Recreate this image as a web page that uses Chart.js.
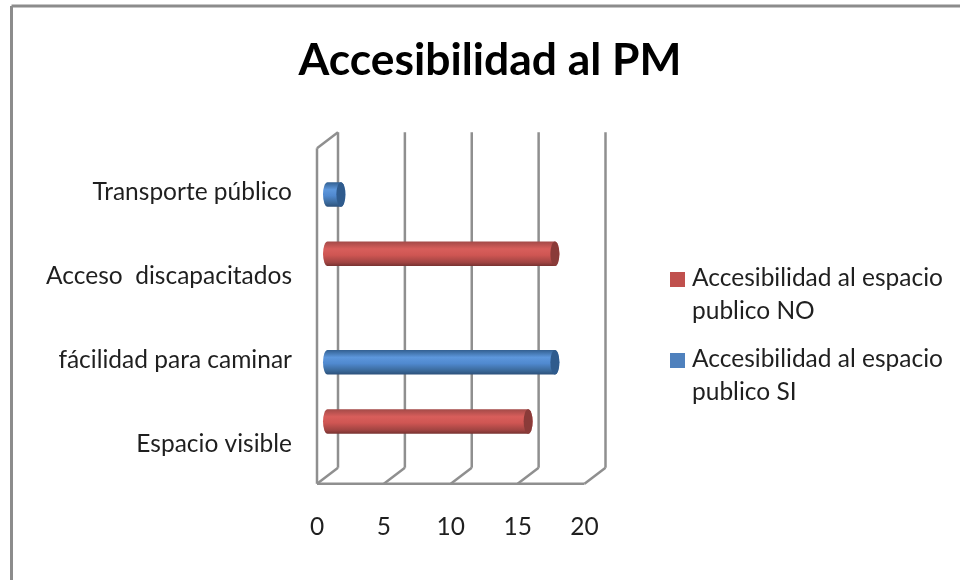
<!DOCTYPE html>
<html>
<head>
<meta charset="utf-8">
<style>
  html, body { margin: 0; background: #fff; }
  canvas { display: block; }
</style>
<script src="https://cdn.jsdelivr.net/npm/chart.js@4/dist/chart.umd.min.js"></script>
</head>
<body>
<canvas id="canvas" width="960" height="580"></canvas>
<script>
var categories = ['Transporte público', 'Acceso  discapacitados', 'fácilidad para caminar', 'Espacio visible'];
var seriesNames = ['Accesibilidad al espacio publico NO', 'Accesibilidad al espacio publico SI'];
var valuesNo = [null, 17, null, 15];
var valuesSi = [1, null, 17, null];
var axisTicks = [0, 5, 10, 15, 20];
var gridColor = '#8f8f8f';
var textColor = '#1f1f1f';
var fontName = 'Lato';

// colours of the cylinders, top edge to bottom edge
var shades = {
  '#c0504d': { stops: ['#a34a48', '#d85e5b', '#cf5653', '#a04442', '#763230'], cap: '#8a3b39' },
  '#4f81bd': { stops: ['#325f90', '#5d97dc', '#5089cf', '#3a6898', '#2c507a'], cap: '#2f5b8d' }
};

function line(ctx, x1, y1, x2, y2) {
  ctx.beginPath();
  ctx.moveTo(x1, y1);
  ctx.lineTo(x2, y2);
  ctx.stroke();
}

// white page, grey frame and the 3d walls, all hung on the x scale
var wallsPlugin = {
  id: 'walls',
  afterLayout: function(chart) {
    // title is centred on the whole frame, not on what is left beside the legend
    chart.titleBlock.left = 20;
    chart.titleBlock.right = 960;
  },
  beforeDraw: function(chart) {
    var ctx = chart.ctx;
    var xs = chart.scales.x;
    var area = chart.chartArea;
    var dx = 10.5, dy = 8;
    ctx.save();
    ctx.fillStyle = '#fff';
    ctx.fillRect(0, 0, 960, 580);
    ctx.strokeStyle = '#8c8c8c';
    ctx.lineWidth = 3;
    line(ctx, 11.5, 6, 960, 6);
    line(ctx, 11.5, 6, 11.5, 580);

    ctx.strokeStyle = gridColor;
    ctx.lineWidth = 2.5;
    axisTicks.forEach(function(v) {
      var p = xs.getPixelForValue(v);
      line(ctx, p + dx, area.top - dy, p + dx, area.bottom - dy);
      line(ctx, p + dx, area.bottom - dy, p - dx, area.bottom + dy);
    });
    var p0 = xs.getPixelForValue(0);
    var p20 = xs.getPixelForValue(20);
    line(ctx, p0 - dx, area.bottom + dy, p20 - dx, area.bottom + dy);
    line(ctx, p0 - dx, area.top + dy, p0 - dx, area.bottom + dy);
    line(ctx, p0 - dx, area.top + dy, p0 + dx, area.top - dy);
    ctx.restore();
  },
  // cylinders instead of flat bars, using the bar elements' own geometry
  beforeDatasetDraw: function(chart, args) {
    var ctx = chart.ctx;
    var ds = args.meta.controller.getDataset();
    var shade = shades[ds.backgroundColor];
    args.meta.data.forEach(function(bar, i) {
      if (ds.data[i] === null) return;
      var r = bar.height / 2;
      var rx = 4.5;
      var x0 = bar.base;
      var x1 = bar.x;
      var g = ctx.createLinearGradient(0, bar.y - r, 0, bar.y + r);
      g.addColorStop(0, shade.stops[0]);
      g.addColorStop(0.3, shade.stops[1]);
      g.addColorStop(0.55, shade.stops[2]);
      g.addColorStop(0.85, shade.stops[3]);
      g.addColorStop(1, shade.stops[4]);
      ctx.save();
      ctx.fillStyle = g;
      ctx.beginPath();
      ctx.ellipse(x0, bar.y, rx, r, 0, Math.PI / 2, Math.PI * 1.5);
      ctx.ellipse(x1, bar.y, rx, r, 0, -Math.PI / 2, Math.PI / 2);
      ctx.closePath();
      ctx.fill();
      ctx.fillStyle = shade.cap;
      ctx.beginPath();
      ctx.ellipse(x1, bar.y, rx, r, 0, 0, Math.PI * 2);
      ctx.fill();
      ctx.restore();
    });
    return false;
  },
  afterDraw: function(chart) {
    // two line legend entries to the right of the plot
    var ctx = chart.ctx;
    var rowY = [278, 359];
    ctx.save();
    ctx.font = '24.5px ' + fontName;
    ctx.textBaseline = 'middle';
    ctx.textAlign = 'left';
    chart.data.datasets.forEach(function(ds, i) {
      var words = ds.label.split(' ');
      var first = words.slice(0, 3).join(' ');
      var second = words.slice(3).join(' ');
      ctx.fillStyle = ds.backgroundColor;
      ctx.fillRect(670, rowY[i] - 6, 15, 15);
      ctx.fillStyle = textColor;
      ctx.fillText(first, 692, rowY[i]);
      ctx.fillText(second, 692, rowY[i] + 33);
    });
    ctx.restore();
  }
};

window.onload = function() {
  var ctx = document.getElementById('canvas').getContext('2d');
  window.myBar = new Chart(ctx, {
    type: 'bar',
    plugins: [wallsPlugin],
    data: {
      labels: categories,
      datasets: [
        { label: seriesNames[0], backgroundColor: '#c0504d', data: valuesNo },
        { label: seriesNames[1], backgroundColor: '#4f81bd', data: valuesSi }
      ]
    },
    options: {
      indexAxis: 'y',
      responsive: false,
      animation: false,
      layout: { padding: { left: 0, right: 365, top: 0, bottom: 0 } },
      categoryPercentage: 0.585,
      barPercentage: 1,
      scales: {
        x: {
          min: 0,
          max: 20,
          grid: { display: false },
          border: { display: false },
          afterFit: function(scale) { scale.height = 104.2; },
          ticks: {
            stepSize: 5,
            padding: 29,
            labelOffset: -10.5,
            maxRotation: 0,
            color: textColor,
            font: { family: fontName, size: 24.5 }
          }
        },
        y: {
          grid: { display: false },
          border: { display: false },
          afterFit: function(scale) { scale.width = 327.5; },
          ticks: {
            padding: 27.5,
            labelOffset: 10,
            color: textColor,
            font: { family: fontName, size: 24.5 }
          }
        }
      },
      plugins: {
        legend: { display: false },
        tooltip: { enabled: false },
        title: {
          display: true,
          text: 'Accesibilidad al PM',
          color: '#000',
          padding: { top: 36.5, bottom: 55.8 },
          font: { family: fontName, size: 44.4, weight: 'bold', lineHeight: 1.081 }
        }
      }
    }
  });
};
</script>
</body>
</html>
